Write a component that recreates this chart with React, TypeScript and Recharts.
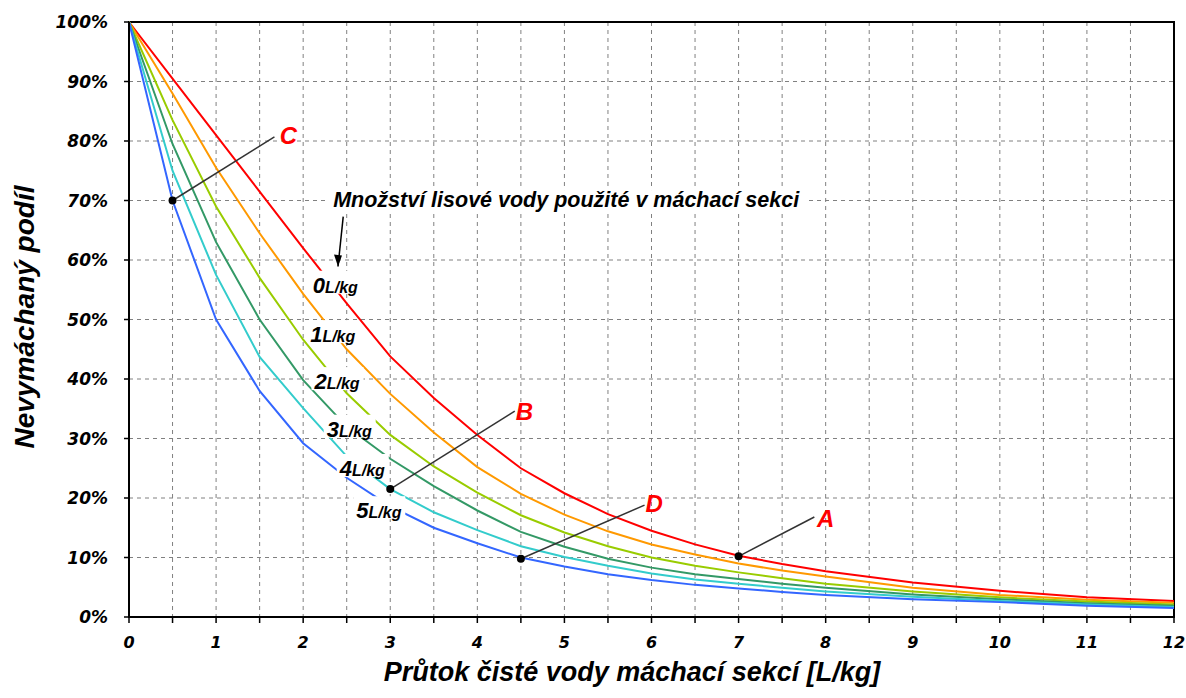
import React from 'react';
import {
  LineChart,
  Line,
  XAxis,
  YAxis,
  CartesianGrid,
  ReferenceLine,
  ReferenceDot,
  ReferenceArea,
} from 'recharts';

// flow of clean water through the rinsing section [L/kg]
const xFlow = [0, 0.5, 1, 1.5, 2, 2.5, 3, 3.5, 4, 4.5, 5, 5.5, 6, 6.5, 7, 7.5, 8, 9, 10, 11, 12];

// unwashed fraction [%] for each amount of press water used in the rinsing section
const press0 = [100, 90.5, 81, 71.5, 62, 52.7, 43.8, 36.8, 30.6, 25, 20.8, 17.3, 14.5, 12.2, 10.3, 8.9, 7.7, 5.8, 4.4, 3.3, 2.7];
const press1 = [100, 88, 75.5, 64.5, 54.3, 45, 37.5, 31, 25.2, 20.7, 17.2, 14.4, 12.2, 10.5, 9.0, 7.8, 6.8, 4.9, 3.7, 2.9, 2.4];
const press2 = [100, 83.5, 69, 57, 46.6, 37.6, 30.6, 25.3, 20.9, 17.1, 14.2, 11.9, 10.0, 8.6, 7.5, 6.5, 5.6, 4.3, 3.3, 2.6, 2.1];
const press3 = [100, 79.5, 63, 50, 39.8, 32, 26.6, 22, 17.9, 14.3, 11.8, 9.8, 8.3, 7.2, 6.4, 5.6, 4.9, 3.8, 3.0, 2.3, 1.9];
const press4 = [100, 75, 57.5, 43.7, 35.1, 27, 21.5, 17.6, 14.6, 11.9, 10.1, 8.6, 7.3, 6.3, 5.6, 4.9, 4.3, 3.4, 2.7, 2.1, 1.7];
const press5 = [100, 70, 50, 38, 29.2, 23.4, 18.6, 15, 12.4, 10, 8.5, 7.2, 6.2, 5.4, 4.8, 4.2, 3.7, 3.0, 2.5, 1.9, 1.5];

const seriesKeys = ['p0', 'p1', 'p2', 'p3', 'p4', 'p5'];
const seriesValues = [press0, press1, press2, press3, press4, press5];
const seriesColors = ['#FF0000', '#FF9900', '#99CC00', '#339966', '#33CCCC', '#3366FF'];

const xTicks = [0, 0.5, 1, 1.5, 2, 2.5, 3, 3.5, 4, 4.5, 5, 5.5, 6, 6.5, 7, 7.5, 8, 8.5, 9, 9.5, 10, 10.5, 11, 11.5, 12];
const yTicks = [0, 10, 20, 30, 40, 50, 60, 70, 80, 90, 100];

// curve labels: amount of press water, anchored at left/baseline of the text
const curveLabels = [
  { text: '0', x: 2.11, y: 54.5 },
  { text: '1', x: 2.08, y: 46.2 },
  { text: '2', x: 2.13, y: 38.3 },
  { text: '3', x: 2.27, y: 30.3 },
  { text: '4', x: 2.42, y: 23.7 },
  { text: '5', x: 2.61, y: 16.6 },
];

// marked points A-D with their leader lines and letters
const callouts = [
  { name: 'C', point: { x: 0.5, y: 70 }, end: { x: 1.67, y: 80.7 }, letter: { x: 1.83, y: 81 } },
  { name: 'B', point: { x: 3, y: 21.5 }, end: { x: 4.43, y: 34.6 }, letter: { x: 4.54, y: 34.5 } },
  { name: 'D', point: { x: 4.5, y: 9.8 }, end: { x: 5.92, y: 18.8 }, letter: { x: 6.03, y: 19 } },
  { name: 'A', point: { x: 7, y: 10.2 }, end: { x: 7.87, y: 16.8 }, letter: { x: 8.0, y: 16.6 } },
];

const noteText = 'Množství lisové vody použité v máchací sekci';
const notePos = { x: 5.02, y: 68.9 };
const arrowFrom = { x: 2.46, y: 67.3 };
const arrowTo = { x: 2.4, y: 58.9 };

const chartData = xFlow.map((x, i) => {
  const row: any = { x };
  seriesKeys.forEach((k, s) => {
    row[k] = seriesValues[s][i];
  });
  return row;
});

const ARIAL = '"Liberation Sans", Arial, sans-serif';
const TICK_FONT = '"DejaVu Sans", Verdana, sans-serif';

const CurveLabel = ({ cx, cy, text }: any) => (
  <g>
    <rect x={cx - 3} y={cy - 22} width={52} height={23} fill="#fff" />
    <text
      x={cx}
      y={cy}
      fontFamily={ARIAL}
      fontWeight="bold"
      fontStyle="italic"
      fill="#000"
    >
      <tspan fontSize={22}>{text}</tspan>
      <tspan fontSize={16}>L/kg</tspan>
    </text>
  </g>
);

const LetterLabel = ({ cx, cy, text }: any) => (
  <text
    x={cx}
    y={cy}
    textAnchor="middle"
    dominantBaseline="central"
    fontFamily={ARIAL}
    fontWeight="bold"
    fontStyle="italic"
    fontSize={24}
    fill="#FF0000"
  >
    {text}
  </text>
);

const NoteLabel = ({ cx, cy }: any) => (
  <g>
    <rect x={cx - 240} y={cy - 17} width={480} height={22} fill="#fff" />
    <text
      x={cx}
      y={cy}
      textAnchor="middle"
      fontFamily={ARIAL}
      fontWeight="bold"
      fontStyle="italic"
      fontSize={21.5}
      fill="#000"
    >
      {noteText}
    </text>
  </g>
);

const ArrowHead = ({ cx, cy }: any) => (
  <polygon points={`${cx - 4},${cy - 12} ${cx + 4},${cy - 11} ${cx},${cy}`} fill="#000" />
);

export default function App() {
  return (
    <div style={{ position: 'absolute', left: 0, top: 0, width: 1186, height: 698, background: '#fff' }}>
      <LineChart
        width={1186}
        height={698}
        data={chartData}
        margin={{ top: 22, right: 12, bottom: 0, left: 0 }}
      >
        <CartesianGrid stroke="#808080" strokeDasharray="4 4" />
        <XAxis
          dataKey="x"
          type="number"
          domain={[0, 12]}
          ticks={xTicks}
          interval={0}
          height={81}
          tickFormatter={(v: number) => (Number.isInteger(v) ? String(v) : '')}
          axisLine={{ stroke: '#000', strokeWidth: 2 }}
          tickLine={{ stroke: '#000', strokeWidth: 1.5 }}
          tickSize={6}
          tickMargin={14}
          tick={{ fill: '#000', fontFamily: TICK_FONT, fontWeight: 'bold', fontStyle: 'italic', fontSize: 16 }}
        />
        <YAxis
          type="number"
          domain={[0, 100]}
          ticks={yTicks}
          interval={0}
          width={129}
          tickFormatter={(v: number) => `${v}%`}
          axisLine={{ stroke: '#000', strokeWidth: 2 }}
          tickLine={{ stroke: '#000', strokeWidth: 1.5 }}
          tickSize={5}
          tickMargin={16}
          tick={{ fill: '#000', fontFamily: TICK_FONT, fontWeight: 'bold', fontStyle: 'italic', fontSize: 17 }}
        />
        <ReferenceArea x1={0} x2={12} y1={0} y2={100} fill="none" stroke="#000" strokeWidth={2} />

        {seriesKeys.map((k, s) => (
          <Line
            key={k}
            type="linear"
            dataKey={k}
            stroke={seriesColors[s]}
            strokeWidth={2}
            dot={false}
            activeDot={false}
            isAnimationActive={false}
          />
        ))}

        {/* labels of the curves, white boxes interrupt the lines */}
        {curveLabels.map((l) => (
          <ReferenceDot
            key={`lab-${l.text}`}
            x={l.x}
            y={l.y}
            zIndex={1500}
            shape={(p: any) => <CurveLabel {...p} text={l.text} />}
          />
        ))}

        <ReferenceDot x={notePos.x} y={notePos.y} zIndex={1500} shape={(p: any) => <NoteLabel {...p} />} />
        <ReferenceLine
          segment={[arrowFrom, arrowTo]}
          stroke="#000"
          strokeWidth={1.5}
          zIndex={1600}
        />
        <ReferenceDot x={arrowTo.x} y={arrowTo.y} zIndex={1600} shape={(p: any) => <ArrowHead {...p} />} />

        {/* marked points A-D */}
        {callouts.map((c) => (
          <ReferenceLine
            key={`seg-${c.name}`}
            segment={[c.point, c.end]}
            stroke="#333"
            strokeWidth={1.5}
            zIndex={1600}
          />
        ))}
        {callouts.map((c) => (
          <ReferenceDot
            key={`pt-${c.name}`}
            x={c.point.x}
            y={c.point.y}
            r={4}
            fill="#000"
            stroke="none"
            zIndex={1700}
          />
        ))}
        {callouts.map((c) => (
          <ReferenceDot
            key={`let-${c.name}`}
            x={c.letter.x}
            y={c.letter.y}
            zIndex={1700}
            shape={(p: any) => <LetterLabel {...p} text={c.name} />}
          />
        ))}
      </LineChart>

      {/* axis titles */}
      <svg
        width={1186}
        height={698}
        style={{ position: 'absolute', left: 0, top: 0, pointerEvents: 'none' }}
      >
        <text
          x={24}
          y={317}
          transform="rotate(-90 24 317)"
          textAnchor="middle"
          dominantBaseline="central"
          fontFamily={ARIAL}
          fontWeight="bold"
          fontStyle="italic"
          fontSize={28}
          fill="#000"
        >
          Nevymáchaný podíl
        </text>
        <text
          x={632}
          y={681}
          textAnchor="middle"
          fontFamily={ARIAL}
          fontWeight="bold"
          fontStyle="italic"
          fontSize={27}
          fill="#000"
        >
          Průtok čisté vody máchací sekcí [L/kg]
        </text>
      </svg>
    </div>
  );
}
